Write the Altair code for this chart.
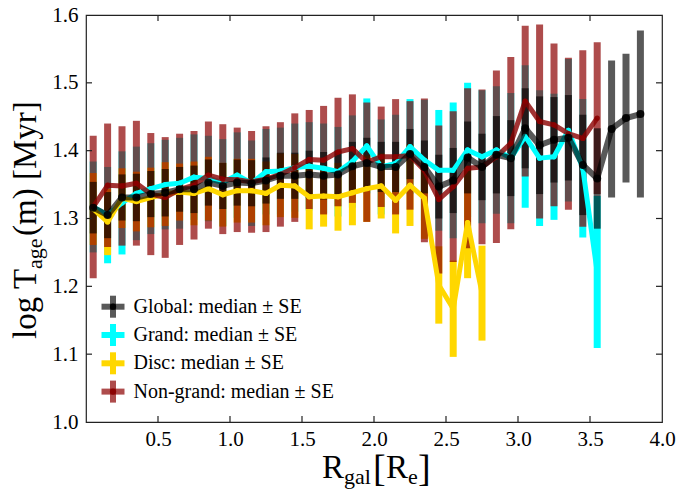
import altair as alt
import pandas as pd

# ---------------- data ----------------
R_ALL = [0.05, 0.15, 0.25, 0.35, 0.45, 0.55, 0.65, 0.75, 0.85, 0.95,
         1.05, 1.15, 1.25, 1.35, 1.45, 1.55, 1.65, 1.75, 1.85, 1.95,
         2.05, 2.15, 2.25, 2.35, 2.45, 2.55, 2.65, 2.75, 2.85, 2.95,
         3.05, 3.15, 3.25, 3.35, 3.45, 3.55, 3.65, 3.75, 3.85]

global_med = [1.316, 1.305, 1.331, 1.331, 1.336, 1.338, 1.343, 1.343, 1.353, 1.348,
              1.353, 1.352, 1.356, 1.363, 1.363, 1.365, 1.363, 1.365, 1.377, 1.382,
              1.376, 1.376, 1.395, 1.376, 1.347, 1.356, 1.390, 1.376, 1.394, 1.389,
              1.433, 1.408, 1.416, 1.419, 1.379, 1.359, 1.432, 1.448, 1.454]
global_se = [0.038, 0.034, 0.034, 0.035, 0.034, 0.035, 0.033, 0.035, 0.034, 0.034,
             0.034, 0.034, 0.034, 0.034, 0.034, 0.035, 0.035, 0.035, 0.036, 0.037,
             0.037, 0.037, 0.037, 0.039, 0.047, 0.048, 0.053, 0.049, 0.057, 0.056,
             0.059, 0.072, 0.063, 0.063, 0.074, 0.074, 0.101, 0.095, 0.123]

grand_med = [1.317, 1.305, 1.323, 1.337, 1.344, 1.350, 1.352, 1.361, 1.359, 1.353,
             1.364, 1.352, 1.369, 1.370, 1.375, 1.377, 1.374, 1.369, 1.384, 1.407,
             1.376, 1.381, 1.406, 1.386, 1.371, 1.371, 1.401, 1.391, 1.401, 1.389,
             1.421, 1.389, 1.391, 1.430, 1.374, 1.221]
grand_se = [0.067, 0.071, 0.076, 0.069, 0.067, 0.066, 0.067, 0.063, 0.063, 0.064,
            0.063, 0.063, 0.063, 0.064, 0.065, 0.065, 0.066, 0.066, 0.068, 0.070,
            0.070, 0.072, 0.070, 0.089, 0.089, 0.100, 0.099, 0.098, 0.094, 0.096,
            0.105, 0.100, 0.093, 0.105, 0.102, 0.112]

disc_med = [1.314, 1.295, 1.330, 1.325, 1.331, 1.336, 1.339, 1.337, 1.344, 1.335,
            1.341, 1.341, 1.337, 1.349, 1.348, 1.332, 1.333, 1.332, 1.338, 1.344,
            1.348, 1.327, 1.349, 1.330, 1.202, 1.167, 1.294, 1.190]
disc_se = [0.053, 0.049, 0.044, 0.044, 0.044, 0.047, 0.042, 0.047, 0.047, 0.047,
           0.047, 0.047, 0.047, 0.047, 0.047, 0.048, 0.045, 0.050, 0.048, 0.049,
           0.048, 0.049, 0.060, 0.060, 0.057, 0.071, 0.082, 0.070]

ng_med = [1.317, 1.349, 1.348, 1.352, 1.336, 1.331, 1.343, 1.349, 1.364, 1.358,
          1.357, 1.354, 1.358, 1.365, 1.375, 1.387, 1.386, 1.398, 1.403, 1.383,
          1.391, 1.391, 1.393, 1.371, 1.328, 1.347, 1.374, 1.376, 1.391, 1.411,
          1.473, 1.443, 1.438, 1.425, 1.418, 1.448]
ng_se = [0.105, 0.091, 0.088, 0.092, 0.090, 0.089, 0.082, 0.080, 0.079, 0.081,
         0.077, 0.075, 0.078, 0.077, 0.080, 0.073, 0.080, 0.080, 0.080, 0.088,
         0.074, 0.085, 0.080, 0.106, 0.109, 0.111, 0.118, 0.114, 0.127, 0.127,
         0.111, 0.143, 0.120, 0.112, 0.130, 0.112]

SERIES = ["Global", "Grand", "Disc", "Non-grand"]
SERIES_COLORS = ["#000000", "#00ffff", "#ffd700", "#8b0000"]
BAR_OPACITY = [0.65, 1.0, 1.0, 0.7]
X_TICKS = [0.5, 1.0, 1.5, 2.0, 2.5, 3.0, 3.5, 4.0]
Y_TICKS = [1.0, 1.1, 1.2, 1.3, 1.4, 1.5, 1.6]

FONT = "Liberation Serif"
W, H = 576, 407


def frame(med, se):
    n = len(med)
    return pd.DataFrame({
        "x": R_ALL[:n],
        "med": med,
        "lo": [m - s for m, s in zip(med, se)],
        "hi": [m + s for m, s in zip(med, se)],
    })


df_global = frame(global_med, global_se)
df_grand = frame(grand_med, grand_se)
df_disc = frame(disc_med, disc_se)
df_ng = frame(ng_med, ng_se)

xs = alt.Scale(domain=[0, 4.0], nice=False, zero=False)
ys = alt.Scale(domain=[1.0, 1.6], nice=False, zero=False)

x_axis = alt.Axis(values=X_TICKS, format=".1f", title=None, grid=False, domain=False,
                  ticks=False, tickSize=0, labelFont=FONT, labelFontSize=21,
                  labelColor="black", labelPadding=6, labelFlush=False, labelOverlap=False)
y_axis = alt.Axis(values=Y_TICKS, format=".1f", title=None, grid=False, domain=False,
                  ticks=False, tickSize=0, labelFont=FONT, labelFontSize=21,
                  labelColor="black", labelPadding=8, labelOverlap=False)


def XE(field):
    return alt.X(field, scale=xs, axis=x_axis)


def YE(field):
    return alt.Y(field, scale=ys, axis=y_axis)


def bars(df, color, opacity):
    return alt.Chart(df).mark_rule(strokeWidth=7, color=color, opacity=opacity).encode(
        x=XE("x:Q"), y=YE("lo:Q"), y2="hi:Q")


def line(df, color, opacity, width):
    return alt.Chart(df).mark_line(strokeWidth=width, color=color, opacity=opacity,
                                   strokeJoin="round").encode(x=XE("x:Q"), y=YE("med:Q"))


def pts(df, color, opacity, size):
    return alt.Chart(df).mark_circle(size=size, color=color, opacity=opacity).encode(
        x=XE("x:Q"), y=YE("med:Q"))


layers = [
    bars(df_grand, "#00ffff", 1.0),
    bars(df_disc, "#ffd700", 1.0),
    bars(df_ng, "#8b0000", 0.7),
    bars(df_global, "#000000", 0.65),
    line(df_grand, "#00ffff", 1.0, 5),
    pts(df_grand, "#00ffff", 1.0, 28),
    line(df_disc, "#ffd700", 1.0, 5),
    pts(df_disc, "#ffd700", 1.0, 28),
    line(df_ng, "#8b0000", 0.8, 5),
    pts(df_ng, "#8b0000", 0.9, 28),
    line(df_global, "#000000", 0.65, 6),
    pts(df_global, "#000000", 0.9, 64),
]

# inward tick marks on all four sides
xt = pd.DataFrame({"x": X_TICKS[:-1]})
yt = pd.DataFrame({"med": Y_TICKS[1:-1]})
TK = dict(color="#222222", strokeWidth=1.2)
layers += [
    alt.Chart(xt).mark_rule(**TK).encode(x=XE("x:Q"), y=alt.value(H), y2=alt.value(H - 6)),
    alt.Chart(xt).mark_rule(**TK).encode(x=XE("x:Q"), y=alt.value(0), y2=alt.value(6)),
    alt.Chart(yt).mark_rule(**TK).encode(y=YE("med:Q"), x=alt.value(0), x2=alt.value(6)),
    alt.Chart(yt).mark_rule(**TK).encode(y=YE("med:Q"), x=alt.value(W), x2=alt.value(W - 6)),
]

# axis titles with subscripts (positions relative to plot origin)
one = pd.DataFrame({"a": [0]})


def txt(s, x, y, size, angle=0, baseline="alphabetic"):
    kw = dict(text=s, font=FONT, fontSize=size, align="left", baseline=baseline,
              color="black")
    if angle:
        kw["angle"] = angle
    return alt.Chart(one).mark_text(**kw).encode(x=alt.value(x), y=alt.value(y))


layers += [
    txt("R", 236, 463, 33),
    txt("gal", 258, 469, 22),
    txt("[", 287, 466, 38),
    txt("R", 300, 463, 33),
    txt("e", 322, 469, 22),
    txt("]", 332, 466, 38),
    txt("log", -50, 324, 33, 270),
    txt("T", -50, 274, 33, 270),
    txt("age", -44, 254, 22, 270),
    txt("(m)", -50, 221, 33, 270),
    txt("[Myr]", -50, 165, 33, 270),
]

# legend: errorbar-style cross glyphs + labels, lower left inside the plot
LEG_X, LEG_Y0, LEG_DY = 27, 291.7, 28.3
for i, (name, col, op) in enumerate(zip(SERIES, SERIES_COLORS, BAR_OPACITY)):
    cy = LEG_Y0 + i * LEG_DY
    layers.append(alt.Chart(one).mark_rule(strokeWidth=6, color=col, opacity=op).encode(
        x=alt.value(LEG_X - 11.5), x2=alt.value(LEG_X + 11.5), y=alt.value(cy)))
    layers.append(alt.Chart(one).mark_rule(strokeWidth=6, color=col, opacity=op).encode(
        x=alt.value(LEG_X), y=alt.value(cy - 11), y2=alt.value(cy + 11)))
    layers.append(alt.Chart(one).mark_circle(size=40, color=col, opacity=0.9).encode(
        x=alt.value(LEG_X), y=alt.value(cy)))
    layers.append(txt(name + ": median \u00b1 SE", LEG_X + 20.5, cy, 20, baseline="middle"))

chart = alt.layer(*layers).properties(
    width=W, height=H,
    padding={"left": 86, "top": 15, "right": 16, "bottom": 70},
    autosize="none",
    background="white",
).configure_view(stroke="#222222", strokeWidth=1.2)

chart.save("out.html", embed_options={"renderer": "svg", "actions": False})
